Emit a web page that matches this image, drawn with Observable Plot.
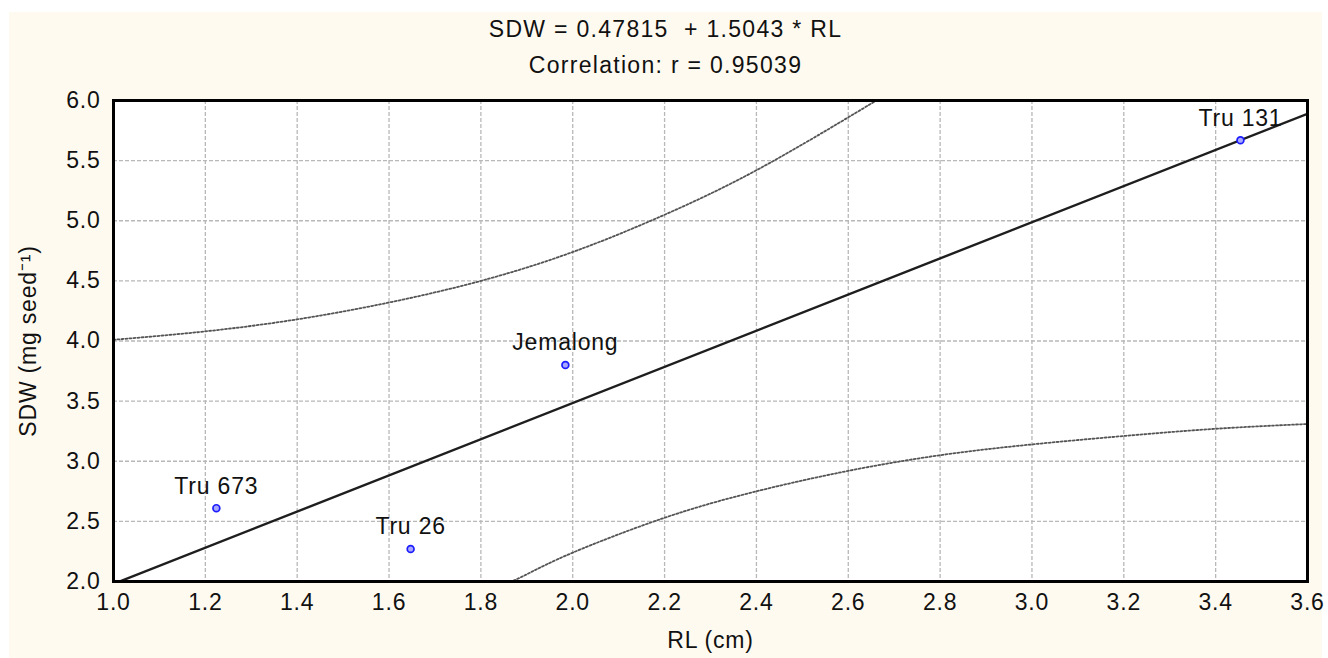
<!DOCTYPE html>
<html>
<head>
<meta charset="utf-8">
<script src="https://cdn.jsdelivr.net/npm/d3@7"></script>
<script src="https://cdn.jsdelivr.net/npm/@observablehq/plot@0.6"></script>
<style>
  html, body { margin: 0; padding: 0; background: #ffffff; }
  #wrap { position: relative; width: 1328px; height: 658px; background: #ffffff; overflow: hidden;
          font-family: "Liberation Sans", Arial, sans-serif; color: #111; }
  #panel { position: absolute; left: 9px; top: 12px; width: 1313px; height: 646px; background: #fffaf0; }
  #title { position: absolute; left: 9px; top: 11px; width: 1313px; text-align: center; font-size: 23px; line-height: 36px; letter-spacing: 1.3px; }
  #chart { position: absolute; left: 0; top: 80px; }
  #chart svg text { letter-spacing: 0.8px; }
</style>
</head>
<body>
<div id="wrap">
  <div id="panel"></div>
  <div id="title">
    <div>SDW = 0.47815&nbsp; + 1.5043 * RL</div>
    <div>Correlation: r = 0.95039</div>
  </div>
  <div id="chart"></div>
</div>
<script>
// Genotype points (RL in cm, SDW in mg seed^-1)
const names = ["Tru 673", "Tru 26", "Jemalong", "Tru 131"];
const rl    = [1.224, 1.647, 1.984, 3.454];
const sdw   = [2.61, 2.27, 3.80, 5.67];

// Fitted regression line (read at the frame edges)
const fitX = [1.0, 3.6];
const fitY = [1.98, 5.89];

// 95% confidence band curves
const upperX = [1.0, 1.2, 1.4, 1.6, 1.8, 2.0, 2.2, 2.4, 2.6, 2.7];
const upperY = [4.01, 4.08, 4.18, 4.32, 4.50, 4.74, 5.05, 5.42, 5.86, 6.09];
const lowerX = [1.8, 1.9, 2.0, 2.2, 2.4, 2.6, 2.8, 3.0, 3.2, 3.4, 3.6];
const lowerY = [1.88, 2.06, 2.24, 2.53, 2.75, 2.92, 3.05, 3.14, 3.21, 3.27, 3.31];

// Tick values
const xTicks = [1.0, 1.2, 1.4, 1.6, 1.8, 2.0, 2.2, 2.4, 2.6, 2.8, 3.0, 3.2, 3.4, 3.6];
const yTicks = [2.0, 2.5, 3.0, 3.5, 4.0, 4.5, 5.0, 5.5, 6.0];

const points = names.map((n, i) => ({name: n, x: rl[i], y: sdw[i]}));
const fit = fitX.map((x, i) => ({x, y: fitY[i]}));
const upper = upperX.map((x, i) => ({x, y: upperY[i]}));
const lower = lowerX.map((x, i) => ({x, y: lowerY[i]}));

const fmt = d3.format(".1f");
const gridStyle = {stroke: "#b8b8b8", strokeOpacity: 1, strokeWidth: 1.3, strokeDasharray: "4,2"};
const bandStyle = {x: "x", y: "y", curve: "natural", clip: true, stroke: "#555", strokeWidth: 1.8, strokeDasharray: "2,2"};

const chart = Plot.plot({
  width: 1328,
  height: 578,
  marginLeft: 113,
  marginRight: 21,
  marginTop: 20,
  marginBottom: 77,
  x: {domain: [1.0, 3.6]},
  y: {domain: [2.0, 6.0]},
  style: {background: "transparent", fontFamily: "Liberation Sans, Arial, sans-serif", fontSize: "23px", color: "#111"},
  marks: [
    Plot.frame({fill: "white", stroke: null}),
    Plot.gridX(xTicks, gridStyle),
    Plot.gridY(yTicks, gridStyle),
    Plot.line(upper, bandStyle),
    Plot.line(lower, bandStyle),
    Plot.line(fit, {x: "x", y: "y", clip: true, stroke: "#1e1e1e", strokeWidth: 2.4}),
    Plot.dot(points, {x: "x", y: "y", r: 3.4, stroke: "#1c1cff", strokeWidth: 1.7, fill: "#a8a8ff"}),
    Plot.text(points, {x: "x", y: "y", text: "name", dy: -22, fill: "#111", fontSize: 23}),
    Plot.axisX(xTicks, {tickSize: 0, tickPadding: 12, tickFormat: fmt, label: "RL (cm)", labelAnchor: "center", labelOffset: 66, labelArrow: false}),
    Plot.axisY(yTicks, {tickSize: 0, tickPadding: 13, tickFormat: fmt, label: "SDW (mg seed\u207B\u00B9)", labelAnchor: "center", labelOffset: 94, labelArrow: false}),
    Plot.frame({stroke: "black", strokeWidth: 3})
  ]
});
document.getElementById("chart").appendChild(chart);
</script>
</body>
</html>
